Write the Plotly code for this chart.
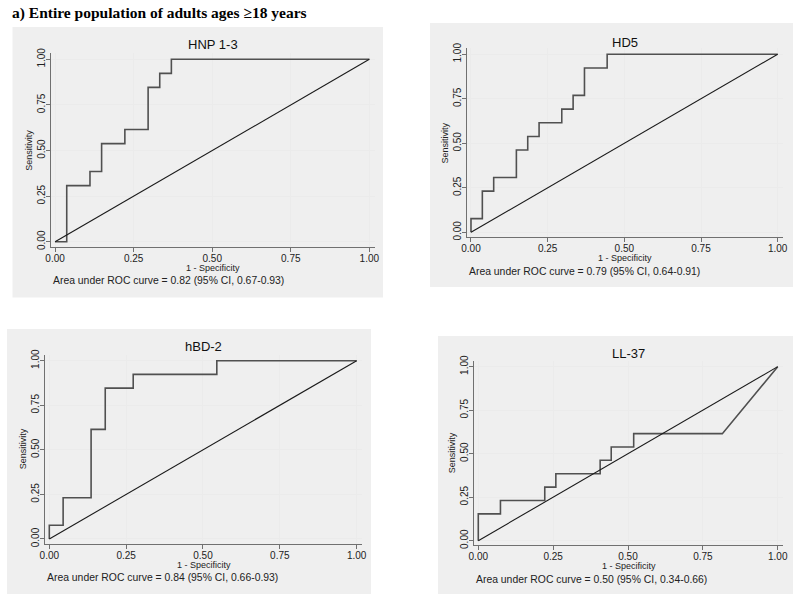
import plotly.graph_objects as go

W, H = 800, 602

header = 'a) Entire population of adults ages \u226518 years'
panel_titles = ['HNP 1-3', 'HD5', 'hBD-2', 'LL-37']
auc_notes = [
    'Area under ROC curve = 0.82 (95% CI, 0.67-0.93)',
    'Area under ROC curve = 0.79 (95% CI, 0.64-0.91)',
    'Area under ROC curve = 0.84 (95% CI, 0.66-0.93)',
    'Area under ROC curve = 0.50 (95% CI, 0.34-0.66)',
]

# 1 - specificity / sensitivity for each marker
hnp_fpr = [0, 0.037, 0.037, 0.111, 0.111, 0.148, 0.148, 0.222, 0.222, 0.296, 0.296, 0.333, 0.333, 0.370, 0.370, 1.0]
hnp_tpr = [0, 0, 0.308, 0.308, 0.385, 0.385, 0.538, 0.538, 0.615, 0.615, 0.846, 0.846, 0.923, 0.923, 1.0, 1.0]

hd5_fpr = [0, 0, 0.037, 0.037, 0.074, 0.074, 0.148, 0.148, 0.185, 0.185, 0.222, 0.222, 0.296, 0.296,
           0.333, 0.333, 0.370, 0.370, 0.444, 0.444, 1.0]
hd5_tpr = [0, 0.077, 0.077, 0.231, 0.231, 0.308, 0.308, 0.462, 0.462, 0.538, 0.538, 0.615, 0.615, 0.692,
           0.692, 0.769, 0.769, 0.923, 0.923, 1.0, 1.0]

hbd2_fpr = [0, 0, 0.045, 0.045, 0.136, 0.136, 0.182, 0.182, 0.273, 0.273, 0.545, 0.545, 1.0]
hbd2_tpr = [0, 0.077, 0.077, 0.231, 0.231, 0.615, 0.615, 0.846, 0.846, 0.923, 0.923, 1.0, 1.0]

ll37_fpr = [0, 0, 0.074, 0.074, 0.222, 0.222, 0.259, 0.259, 0.407, 0.407, 0.444, 0.444, 0.519, 0.519, 0.815, 1.0]
ll37_tpr = [0, 0.154, 0.154, 0.231, 0.231, 0.308, 0.308, 0.385, 0.385, 0.462, 0.462, 0.538, 0.538, 0.615, 0.615, 1.0]

ref_line = [0, 1]
tick_vals = [0, 0.25, 0.5, 0.75, 1.0]
tick_text = ['0.00', '0.25', '0.50', '0.75', '1.00']

curves = [(hnp_fpr, hnp_tpr), (hd5_fpr, hd5_tpr), (hbd2_fpr, hbd2_tpr), (ll37_fpr, ll37_tpr)]

# pixel boxes: plot region (l, r, t, b) and grey panel (l, r, t, b), title y
plot_px = [(50.7, 375, 53.3, 246.7), (466.7, 783.2, 48.4, 237.1),
           (45.0, 362.2, 354.8, 543.8), (474.1, 783.1, 360.9, 545.4)]
panel_px = [(12.5, 383, 27, 297.5), (430, 793, 23, 287),
            (7, 371, 329, 594), (438, 793, 336, 594)]
title_px = [45, 42, 347, 353]

XR = [-0.014, 1.018]
YR = [-0.027, 1.033]


def px_x(p):
    return p / W


def px_y(p):
    return 1 - p / H


fig = go.Figure()
shapes = []
annotations = [dict(text='<b>' + header + '</b>', x=px_x(10), y=px_y(13), xref='paper', yref='paper',
                    xanchor='left', yanchor='middle', showarrow=False,
                    font=dict(family='Liberation Serif', size=15.5, color='black'))]
layout_axes = {}

for i in range(4):
    n = '' if i == 0 else str(i + 1)
    fpr, tpr = curves[i]
    fig.add_trace(go.Scatter(x=fpr, y=tpr, mode='lines', xaxis='x' + n, yaxis='y' + n,
                             line=dict(color='#505050', width=1.6), showlegend=False))
    fig.add_trace(go.Scatter(x=ref_line, y=ref_line, mode='lines', xaxis='x' + n, yaxis='y' + n,
                             line=dict(color='#1a1a1a', width=1.1), showlegend=False))

    l, r, t, b = plot_px[i]
    pl, pr, pt, pb = panel_px[i]
    common = dict(showgrid=True, gridcolor='#ebebeb', gridwidth=1, zeroline=False,
                  showline=True, linecolor='#707070', linewidth=1,
                  ticks='outside', ticklen=4, tickcolor='#707070',
                  tickvals=tick_vals, ticktext=tick_text, automargin=False,
                  tickfont=dict(family='Liberation Sans', size=10, color='#222'))
    layout_axes['xaxis' + n] = dict(common, domain=[px_x(l), px_x(r)], range=XR,
                                    anchor='y' + n, ticklabelstandoff=-2)
    layout_axes['yaxis' + n] = dict(common, domain=[px_y(b), px_y(t)], range=YR,
                                    anchor='x' + n, tickangle=-90, ticklabelstandoff=-3)

    shapes.append(dict(type='rect', xref='paper', yref='paper', layer='below',
                       x0=px_x(pl), x1=px_x(pr), y0=px_y(pb), y1=px_y(pt),
                       fillcolor='#efefef', line=dict(width=0)))

    cx = (l + r) / 2
    annotations += [
        dict(text=panel_titles[i], x=px_x(cx), y=px_y(title_px[i]), xref='paper', yref='paper',
             xanchor='center', yanchor='middle', showarrow=False,
             font=dict(family='Liberation Sans', size=13, color='#111')),
        dict(text='1 - Specificity', x=px_x(cx), y=px_y(b + 21), xref='paper', yref='paper',
             xanchor='center', yanchor='middle', showarrow=False,
             font=dict(family='Liberation Sans', size=9, color='#222')),
        dict(text='Sensitivity', x=px_x(l - 22), y=px_y((t + b) / 2), xref='paper', yref='paper',
             xanchor='center', yanchor='middle', showarrow=False, textangle=-90,
             font=dict(family='Liberation Sans', size=9, color='#222')),
        dict(text=auc_notes[i], x=px_x(l), y=px_y(b + 34), xref='paper', yref='paper',
             xanchor='left', yanchor='middle', showarrow=False,
             font=dict(family='Liberation Sans', size=10.4, color='#222')),
    ]

fig.update_layout(width=W, height=H, margin=dict(l=0, r=0, t=0, b=0),
                  paper_bgcolor='white', plot_bgcolor='white',
                  shapes=shapes, annotations=annotations, **layout_axes)

# page body has a default 8px margin; drop it so the figure sits at the window origin
fig.write_html('out.html', config={'displayModeBar': False},
               post_script="document.body.style.margin='0';")
